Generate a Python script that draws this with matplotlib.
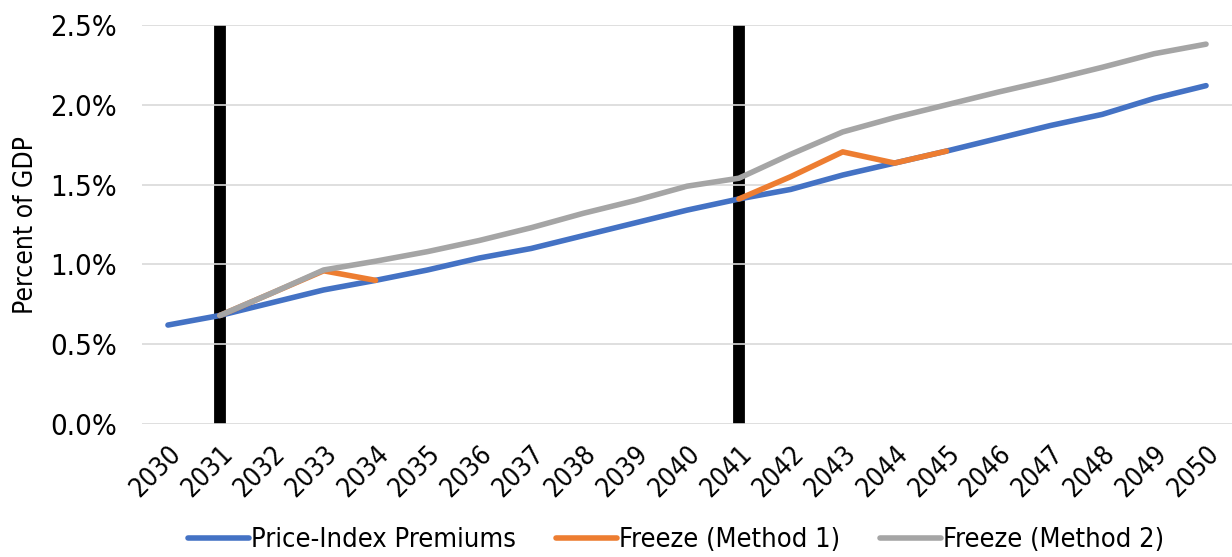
import numpy as np
import matplotlib.pyplot as plt
from matplotlib.ticker import FuncFormatter

plt.rcParams['font.family'] = ['DejaVu Sans']
plt.rcParams['font.stretch'] = 'condensed'

years = list(range(2030, 2051))
price_index = [0.62, 0.68, 0.76, 0.84, 0.90, 0.965, 1.04, 1.10, 1.18, 1.26, 1.34,
               1.41, 1.47, 1.56, 1.635, 1.71, 1.79, 1.87, 1.94, 2.04, 2.12]
nan = np.nan
freeze_m1 = [nan, 0.68, 0.82, 0.96, 0.90, nan, nan, nan, nan, nan, nan,
             1.41, 1.55, 1.705, 1.635, 1.71, nan, nan, nan, nan, nan]
freeze_m2 = [nan, 0.68, 0.82, 0.965, 1.02, 1.08, 1.15, 1.23, 1.32, 1.40, 1.49,
             1.54, 1.69, 1.83, 1.92, 2.00, 2.08, 2.155, 2.235, 2.32, 2.38]
markers_years = [2031, 2041]

fig = plt.figure(figsize=(12.32, 5.57), dpi=100)
ax = fig.add_axes([142 / 1232, 1 - 424 / 557, 1090 / 1232, 399 / 557])

for yr in markers_years:
    ax.axvline(yr, color='black', lw=8.5, zorder=1)

ax.plot(years, price_index, color='#4472C4', lw=4, solid_capstyle='round',
        label='Price-Index Premiums', zorder=3)
ax.plot(years, freeze_m1, color='#ED7D31', lw=4, solid_capstyle='round',
        label='Freeze (Method 1)', zorder=4)
ax.plot(years, freeze_m2, color='#A5A5A5', lw=4, solid_capstyle='round',
        label='Freeze (Method 2)', zorder=5)

ax.set_xlim(2029.5, 2050.5)
ax.set_ylim(0, 2.5)
ax.set_yticks(np.arange(0, 2.51, 0.5))
ax.yaxis.set_major_formatter(FuncFormatter(lambda v, p: '{:.1f}%'.format(v)))
ax.set_xticks(years)
ax.set_xticklabels([str(y) for y in years], rotation=45, ha='right',
                   rotation_mode='anchor', fontsize=19)
ax.tick_params(axis='y', labelsize=21, length=0, pad=18)
ax.tick_params(axis='x', length=0, pad=12)
ax.grid(axis='y', color='#D9D9D9', lw=1.2, zorder=0)
for s in ax.spines.values():
    s.set_visible(False)
ax.set_ylabel('Percent of GDP', fontsize=19, labelpad=8)

ax.legend(loc='lower center', bbox_to_anchor=(0.49, -0.385), ncol=3, frameon=False,
          fontsize=19.5, handlelength=2.25, handletextpad=0.05, columnspacing=1.5)

fig.savefig('out.png', dpi=100)
